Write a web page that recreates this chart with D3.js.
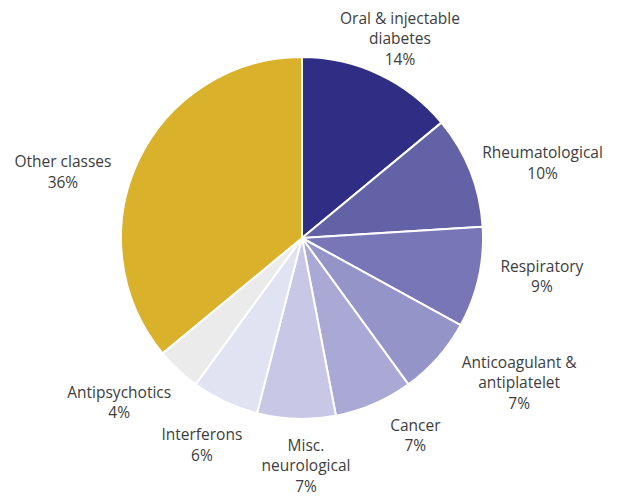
<!DOCTYPE html>
<html>
<head>
<meta charset="utf-8">
<script src="https://cdn.jsdelivr.net/npm/d3@7"></script>
<style>
  html, body { margin: 0; padding: 0; background: #ffffff; }
  svg { display: block; }
  .label { font-family: "Open Sans", "DejaVu Sans", sans-serif; font-size: 15.5px; fill: #3d3d3d; }
</style>
</head>
<body>
<svg id="chart" width="618" height="499"></svg>
<script>
// Share of spending by therapeutic class (%)
const categories = [
  ["Oral & injectable", "diabetes"],
  ["Rheumatological"],
  ["Respiratory"],
  ["Anticoagulant &", "antiplatelet"],
  ["Cancer"],
  ["Misc.", "neurological"],
  ["Interferons"],
  ["Antipsychotics"],
  ["Other classes"]
];
const shares = [14, 10, 9, 7, 7, 7, 6, 4, 36];
const sliceColors = ["#2f2d84", "#6462a6", "#7876b7", "#9594c8", "#aaa9d5",
                     "#c8c7e5", "#e1e2f2", "#ebebeb", "#d9b12a"];

// Label placement: angular nudge (degrees) from the slice middle, and distance from centre
const labelPlacement = [
  [1, 222], [4.3, 252], [-3.4, 243], [-7.7, 261], [-6.4, 228],
  [-2.8, 228], [0.6, 230], [4.8, 246], [-9.8, 248]
];

const svg = d3.select("#chart");
const cx = 302, cy = 238, radius = 181;
const lineHeight = 20.5;

const data = shares.map((v, i) => ({ name: categories[i], value: v, color: sliceColors[i], i }));

const pie = d3.pie().value(d => d.value).sort(null);
const arc = d3.arc().innerRadius(0).outerRadius(radius);
const arcs = pie(data);

const g = svg.append("g").attr("transform", `translate(${cx},${cy})`);

g.selectAll("path.slice")
  .data(arcs)
  .join("path")
  .attr("class", "slice")
  .attr("d", arc)
  .attr("fill", d => d.data.color)
  .attr("stroke", "#ffffff")
  .attr("stroke-width", 2)
  .attr("stroke-linejoin", "round");

// Labels: category lines followed by the percentage, block centred on its anchor
g.selectAll("text.label")
  .data(arcs)
  .join("text")
  .attr("class", "label")
  .attr("text-anchor", "middle")
  .each(function(d) {
    const [shift, dist] = labelPlacement[d.data.i];
    const mid = (d.startAngle + d.endAngle) / 2 + shift * Math.PI / 180;
    const x = Math.sin(mid) * dist;
    const y = -Math.cos(mid) * dist;
    const lines = d.data.name.concat([d.data.value + "%"]);
    const capH = 10.5;
    const blockH = capH + (lines.length - 1) * lineHeight;
    const firstBaseline = y - blockH / 2 + capH;
    const t = d3.select(this);
    lines.forEach((ln, k) => {
      t.append("tspan")
        .attr("x", x)
        .attr("y", firstBaseline + k * lineHeight)
        .text(ln);
    });
  });
</script>
</body>
</html>
